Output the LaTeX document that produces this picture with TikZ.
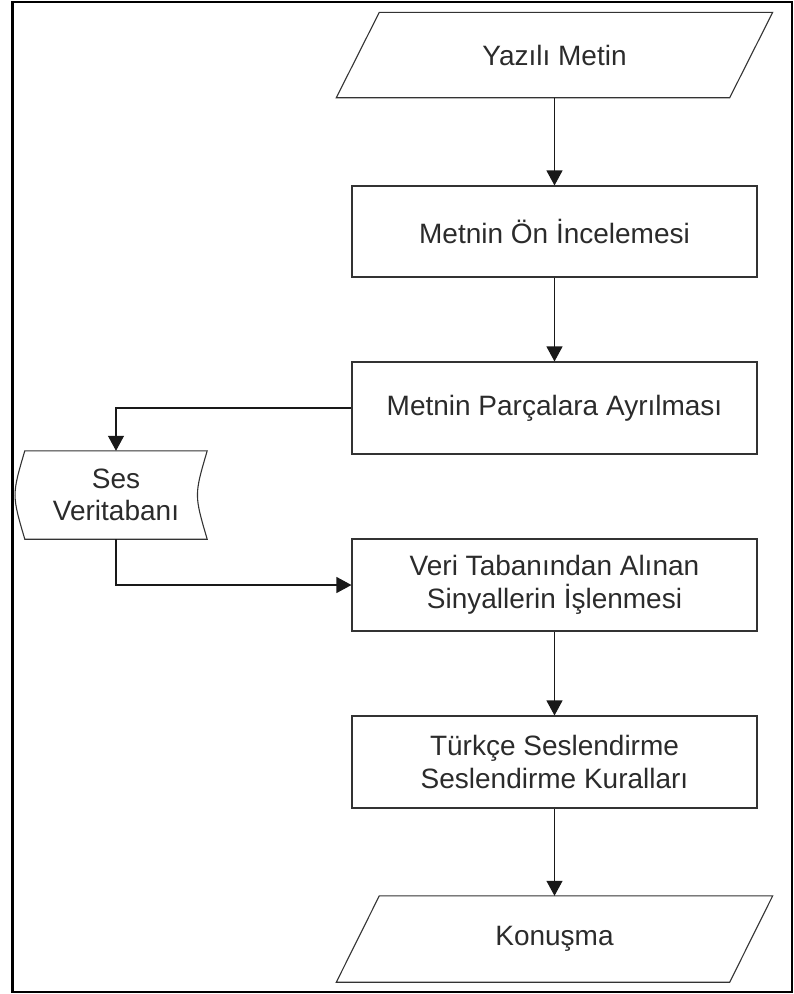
\documentclass[tikz,border=0pt]{standalone}
\usepackage{fontspec}
\setmainfont{Liberation Sans}
\usetikzlibrary{arrows.meta}
\definecolor{ink}{HTML}{2B2B2B}
\definecolor{edge}{HTML}{333333}
\begin{document}
\begin{tikzpicture}[x=1pt,y=-1pt,
  every node/.style={font=\fontsize{28}{32.5}\selectfont, text=ink, inner sep=0pt},
  procbox/.style={draw=edge, line width=1.1pt, minimum width=405pt, minimum height=92pt, align=center},
  iobox/.style={minimum width=436pt, minimum height=85pt},
  dbbox/.style={minimum width=182pt, minimum height=88pt, align=center},
  link/.style={draw=black!90, line width=1.1pt, -{Triangle[length=15pt,width=16pt]}},
  outline/.style={draw=edge, line width=1.1pt, line join=miter},
]
\useasboundingbox (0,0) rectangle (794,994);
% outer frame
\draw[line width=2.4pt] (12.5,2) rectangle (792,992);

% input: written text (parallelogram)
\node[iobox] (in) at (554.5,55) {Yazılı Metin};
\draw[outline] ([xshift=43pt]in.north west) -- (in.north east)
  -- ([xshift=-43pt]in.south east) -- (in.south west) -- cycle;

% processing steps
\node[procbox, minimum height=91pt] (b1) at (554.5,231.5) {Metnin Ön İncelemesi};
\node[procbox] (b2) at (554.5,408) {Metnin Parçalara Ayrılması};
\node[procbox] (b3) at (554.5,585) {Veri Tabanından Alınan\\Sinyallerin İşlenmesi};
\node[procbox] (b4) at (554.5,762) {Türkçe Seslendirme\\Seslendirme Kuralları};

% output: speech (parallelogram)
\node[iobox, minimum height=86pt] (out) at (554.5,939) {Konuşma};
\draw[outline] ([xshift=43pt]out.north west) -- (out.north east)
  -- ([xshift=-43pt]out.south east) -- (out.south west) -- cycle;

% stored data: sound database
\node[dbbox] (db) at (116,495) {Ses\\Veritabanı};
\draw[outline] (db.north west) -- (db.north east)
  .. controls ([xshift=-13pt]db.east) .. (db.south east)
  -- (db.south west)
  .. controls ([xshift=-13pt]db.west) .. (db.north west) -- cycle;

% connectors
\draw[link] (in.south) -- (b1.north);
\draw[link] (b1.south) -- (b2.north);
\draw[link] (b2.west) -| (db.north);
\draw[link] (db.south) |- (b3.west);
\draw[link] (b3.south) -- (b4.north);
\draw[link] (b4.south) -- (out.north);
\end{tikzpicture}
\end{document}
